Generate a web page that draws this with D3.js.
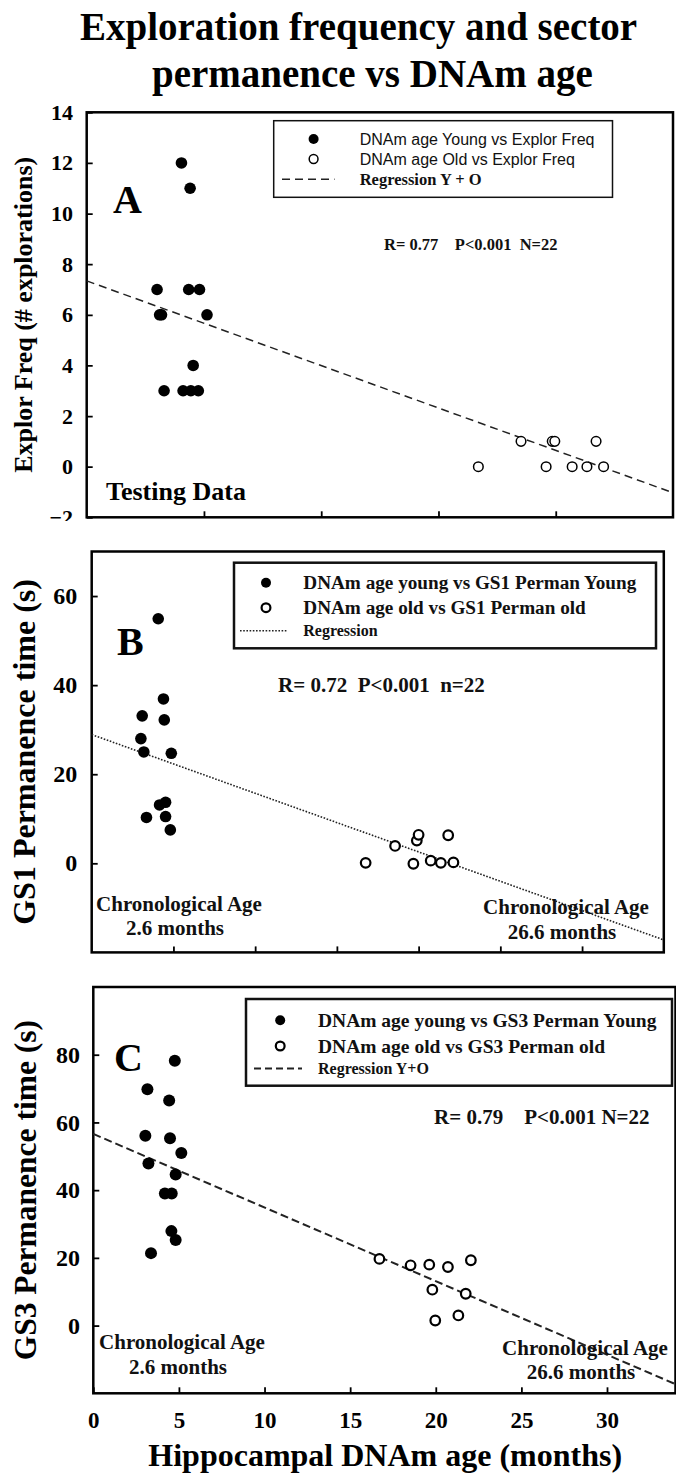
<!DOCTYPE html>
<html>
<head>
<meta charset="utf-8">
<script src="https://cdn.jsdelivr.net/npm/d3@7"></script>
<style>
  body { margin: 0; background: #fff; }
  svg { display: block; }
</style>
</head>
<body>
<div id="chart"></div>
<script>
// Values (x = hippocampal DNAm age in months)

// Panel A - exploration frequency
const youngAx = [4.04, 4.41, 3.0, 4.35, 4.81, 3.11, 3.19, 5.13, 4.54, 3.3, 4.11, 4.44, 4.76];
const youngAy = [12, 11, 7, 7, 7, 6, 6, 6, 4, 3, 3, 3, 3];
const oldAx = [16.7, 18.52, 19.85, 19.96, 19.59, 20.7, 21.33, 21.72, 22.04];
const oldAy = [0, 1, 1, 1, 0, 0, 0, 1, 0];
const regA = [[0, 7.34], [25, -1.03]];
const yTicksA = [-2, 0, 2, 4, 6, 8, 10, 12, 14];
const xTicksA = [5, 10, 15, 20];

// Panel B - GS1 permanence time
const youngBx = [4.07, 4.39, 3.09, 4.44, 3.01, 3.19, 4.87, 4.52, 4.15, 3.35, 4.52, 4.81];
const youngBy = [54.9, 36.9, 33.1, 32.2, 28.0, 25.0, 24.7, 13.7, 13.1, 10.3, 10.5, 7.5];
const oldBx = [16.76, 18.56, 19.68, 19.89, 20.0, 20.74, 21.36, 21.81, 22.13];
const oldBy = [0.1, 3.9, -0.1, 5.1, 6.4, 0.6, 0.1, 6.3, 0.2];
const regB = [[0, 28.9], [35, -17.2]];
const yTicksB = [0, 20, 40, 60];
const xTicksB = [5, 10, 15, 20, 25, 30];

// Panel C - GS3 permanence time
const youngCx = [4.76, 3.16, 4.43, 3.04, 4.48, 5.14, 3.22, 4.81, 4.18, 4.58, 4.56, 4.81, 3.37];
const youngCy = [78.2, 69.8, 66.5, 56.1, 55.3, 51.0, 47.9, 44.6, 39.0, 39.0, 27.9, 25.3, 21.4];
const oldCx = [16.71, 18.53, 19.62, 20.71, 22.05, 19.80, 21.75, 19.97, 21.32];
const oldCy = [19.7, 17.8, 18.0, 17.3, 19.3, 10.6, 9.4, 1.5, 3.0];
const regC = [[0, 56.6], [34, -17.3]];
const yTicksC = [0, 20, 40, 60, 80];
const xTicksC = [0, 5, 10, 15, 20, 25, 30];

const serif = "'Liberation Serif', 'Times New Roman', serif";
const sans = "'Liberation Sans', Arial, sans-serif";

const width = 676, height = 1474;

const svg = d3.select("#chart").append("svg")
    .attr("width", width)
    .attr("height", height)
    .style("background", "#fff");

const zip = (xs, ys) => xs.map((x, i) => [x, ys[i]]);

// panel layout (pixel boxes) plus links to the data above
const panels = [
    {
        id: "A", left: 86.7, right: 673, top: 112.3, bottom: 517.3,
        xDomain: [0, 25], yDomain: [-2, 14],
        xTicks: xTicksA, yTicks: yTicksA, xLabels: false,
        young: zip(youngAx, youngAy), old: zip(oldAx, oldAy), reg: regA,
        regDash: "8,5", regWidth: 1.5, openStroke: 1.5,
        tickFont: 22, tickPad: 13.7,
        yTitle: "Explor Freq (# explorations)", yTitleX: 32, yTitleFont: 26,
        letter: { x: 113, y: 213 },
        stats: { text: "R= 0.77    P<0.001  N=22", x: 384, y: 250, size: 16.5 },
    },
    {
        id: "B", left: 91.7, right: 663.8, top: 551.5, bottom: 952.4,
        xDomain: [0, 35], yDomain: [-20, 70],
        xTicks: xTicksB, yTicks: yTicksB, xLabels: false,
        young: zip(youngBx, youngBy), old: zip(oldBx, oldBy), reg: regB,
        regDash: "1.6,1.6", regWidth: 1.6, openStroke: 2.2,
        tickFont: 24, tickPad: 14.4,
        yTitle: "GS1 Permanence time (s)", yTitleX: 35, yTitleFont: 32,
        letter: { x: 117, y: 655 },
        stats: { text: "R= 0.72  P<0.001  n=22", x: 278, y: 692, size: 21 },
    },
    {
        id: "C", left: 93.3, right: 675.5, top: 987, bottom: 1393.3,
        xDomain: [0, 34], yDomain: [-20, 100],
        xTicks: xTicksC, yTicks: yTicksC, xLabels: true,
        young: zip(youngCx, youngCy), old: zip(oldCx, oldCy), reg: regC,
        regDash: "8,4", regWidth: 2, openStroke: 2.2,
        tickFont: 24, tickPad: 13.3,
        yTitle: "GS3 Permanence time (s)", yTitleX: 36, yTitleFont: 31.5,
        letter: { x: 114, y: 1071 },
        stats: { text: "R= 0.79    P<0.001 N=22", x: 434, y: 1124, size: 21 },
    },
];

// clip for the "-2" label of panel A, which is cut at the frame bottom
// (coordinates are in the axis group's own space, i.e. shifted by p.left)
svg.append("clipPath").attr("id", "clipA")
    .append("rect").attr("x", -90).attr("y", 0).attr("width", 200).attr("height", 521);

// Title
svg.append("text")
    .attr("x", 80).attr("y", 40)
    .style("font-family", serif).style("font-weight", "bold").style("font-size", "39px")
    .text("Exploration frequency and sector");
svg.append("text")
    .attr("x", 152).attr("y", 87)
    .style("font-family", serif).style("font-weight", "bold").style("font-size", "39px")
    .text("permanence vs DNAm age");

function drawPanel(p) {
    const g = svg.append("g").attr("class", "panel-" + p.id);

    const x = d3.scaleLinear().domain(p.xDomain).range([p.left, p.right]);
    const y = d3.scaleLinear().domain(p.yDomain).range([p.bottom, p.top]);

    // y axis, ticks pointing inward
    const yAxisG = g.append("g")
        .attr("transform", `translate(${p.left},0)`)
        .call(d3.axisLeft(y).tickValues(p.yTicks).tickSizeInner(-6).tickSizeOuter(0).tickPadding(p.tickPad));
    yAxisG.select(".domain").remove();
    yAxisG.selectAll("line").attr("stroke", "#000").attr("stroke-width", 1.8);
    yAxisG.selectAll("text")
        .style("font-family", serif).style("font-weight", "bold")
        .style("font-size", p.tickFont + "px").attr("fill", "#000");
    if (p.id === "A") yAxisG.attr("clip-path", "url(#clipA)");

    // x axis
    const xAxisG = g.append("g")
        .attr("transform", `translate(0,${p.bottom})`)
        .call(d3.axisBottom(x).tickValues(p.xTicks).tickSizeInner(-6).tickSizeOuter(0).tickPadding(18.4)
            .tickFormat(p.xLabels ? d3.format("d") : ""));
    xAxisG.select(".domain").remove();
    xAxisG.selectAll("line").attr("stroke", "#000").attr("stroke-width", 1.8);
    xAxisG.selectAll("text")
        .style("font-family", serif).style("font-weight", "bold")
        .style("font-size", "23px").attr("fill", "#000");

    // frame
    g.append("rect")
        .attr("x", p.left).attr("y", p.top)
        .attr("width", p.right - p.left).attr("height", p.bottom - p.top)
        .attr("fill", "none").attr("stroke", "#000").attr("stroke-width", 2.5);

    // regression
    g.append("path")
        .datum(p.reg)
        .attr("d", d3.line().x(d => x(d[0])).y(d => y(d[1])))
        .attr("fill", "none").attr("stroke", "#222")
        .attr("stroke-width", p.regWidth).attr("stroke-dasharray", p.regDash);

    // points
    g.append("g").selectAll("circle")
        .data(p.young).join("circle")
        .attr("cx", d => x(d[0])).attr("cy", d => y(d[1]))
        .attr("r", p.id === "C" ? 6 : 5.8)
        .attr("fill", "#000");

    g.append("g").selectAll("circle")
        .data(p.old).join("circle")
        .attr("cx", d => x(d[0])).attr("cy", d => y(d[1]))
        .attr("r", 4.8)
        .attr("fill", "#fff").attr("stroke", "#000").attr("stroke-width", p.openStroke);

    // panel letter
    g.append("text")
        .attr("x", p.letter.x).attr("y", p.letter.y)
        .style("font-family", serif).style("font-weight", "bold").style("font-size", "40px")
        .text(p.id);

    // stats
    g.append("text")
        .attr("x", p.stats.x).attr("y", p.stats.y)
        .style("font-family", serif).style("font-weight", "bold")
        .style("font-size", p.stats.size + "px").style("white-space", "pre")
        .attr("fill", "#111")
        .text(p.stats.text);

    // y title
    const ym = (p.top + p.bottom) / 2;
    svg.append("text")
        .attr("transform", `translate(${p.yTitleX},${ym}) rotate(-90)`)
        .attr("text-anchor", "middle")
        .style("font-family", serif).style("font-weight", "bold")
        .style("font-size", p.yTitleFont + "px")
        .text(p.yTitle);

    return g;
}

const gA = drawPanel(panels[0]);
const gB = drawPanel(panels[1]);
const gC = drawPanel(panels[2]);

// "Testing Data" note in panel A
gA.append("text")
    .attr("x", 106).attr("y", 500)
    .style("font-family", serif).style("font-weight", "bold").style("font-size", "26px")
    .text("Testing Data");

// chronological age notes in B and C
const chrono = [
    { g: gB, x: 179, y1: 910.5, y2: 935, sub: "2.6 months" },
    { g: gB, x: 566, y1: 914, y2: 938.5, sub: "26.6 months" },
    { g: gC, x: 182, y1: 1349, y2: 1374, sub: "2.6 months" },
    { g: gC, x: 585, y1: 1354.5, y2: 1378.5, sub: "26.6 months" },
];
chrono.forEach(c => {
    c.g.append("text").attr("x", c.x).attr("y", c.y1).attr("text-anchor", "middle")
        .style("font-family", serif).style("font-weight", "bold").style("font-size", "21px")
        .attr("fill", "#111").text("Chronological Age");
    c.g.append("text").attr("x", c.x - 4).attr("y", c.y2).attr("text-anchor", "middle")
        .style("font-family", serif).style("font-weight", "bold").style("font-size", "21px")
        .attr("fill", "#111").text(c.sub);
});

// legends
function legend(g, box, items) {
    g.append("rect")
        .attr("x", box.x).attr("y", box.y).attr("width", box.w).attr("height", box.h)
        .attr("fill", "#fff").attr("stroke", "#111").attr("stroke-width", box.stroke);
    items.forEach(it => {
        if (it.type === "filled") {
            g.append("circle").attr("cx", it.mx).attr("cy", it.y).attr("r", 5).attr("fill", "#000");
        } else if (it.type === "open") {
            g.append("circle").attr("cx", it.mx).attr("cy", it.y).attr("r", 4.4)
                .attr("fill", "#fff").attr("stroke", "#000").attr("stroke-width", it.sw);
        } else {
            g.append("line").attr("x1", it.lx1).attr("x2", it.lx2).attr("y1", it.y).attr("y2", it.y)
                .attr("stroke", "#222").attr("stroke-width", it.sw).attr("stroke-dasharray", it.dash);
        }
        g.append("text")
            .attr("x", it.tx).attr("y", it.y).attr("dy", "0.35em")
            .style("font-family", it.font === "sans" ? sans : serif)
            .style("font-weight", it.font === "sans" ? "normal" : "bold")
            .style("font-size", it.size + "px")
            .attr("fill", "#111")
            .text(it.label);
    });
}

legend(gA, { x: 273.7, y: 120.7, w: 338.8, h: 76.6, stroke: 1.5 }, [
    { type: "filled", mx: 313.6, y: 139, tx: 359.7, label: "DNAm age Young vs Explor Freq", font: "sans", size: 16 },
    { type: "open", mx: 313.6, y: 159, sw: 1.5, tx: 359.7, label: "DNAm age Old vs Explor Freq", font: "sans", size: 16 },
    { type: "line", lx1: 282, lx2: 334.5, y: 179.3, sw: 1.5, dash: "8,5", tx: 359.7, label: "Regression Y + O", font: "serif", size: 16.5 },
]);

legend(gB, { x: 234, y: 562.7, w: 422, h: 85.6, stroke: 2.5 }, [
    { type: "filled", mx: 266, y: 582.7, tx: 303.3, label: "DNAm age young vs GS1 Perman Young", font: "serif", size: 19.2 },
    { type: "open", mx: 266, y: 607.7, sw: 2.2, tx: 303.3, label: "DNAm age old vs GS1 Perman old", font: "serif", size: 19.2 },
    { type: "line", lx1: 240, lx2: 288, y: 630.7, sw: 1.6, dash: "1.6,1.6", tx: 303.3, label: "Regression", font: "serif", size: 16 },
]);

legend(gC, { x: 246, y: 999, w: 426, h: 86.7, stroke: 2.5 }, [
    { type: "filled", mx: 280.2, y: 1020.3, tx: 318, label: "DNAm age young vs GS3 Perman Young", font: "serif", size: 19.5 },
    { type: "open", mx: 280.2, y: 1046, sw: 2.2, tx: 318, label: "DNAm age old vs GS3 Perman old", font: "serif", size: 19.5 },
    { type: "line", lx1: 254, lx2: 302, y: 1068.4, sw: 2, dash: "7,4", tx: 318, label: "Regression Y+O", font: "serif", size: 16 },
]);

// x axis title
svg.append("text")
    .attr("x", 148.3).attr("y", 1466)
    .style("font-family", serif).style("font-weight", "bold").style("font-size", "32px")
    .text("Hippocampal DNAm age (months)");
</script>
</body>
</html>
